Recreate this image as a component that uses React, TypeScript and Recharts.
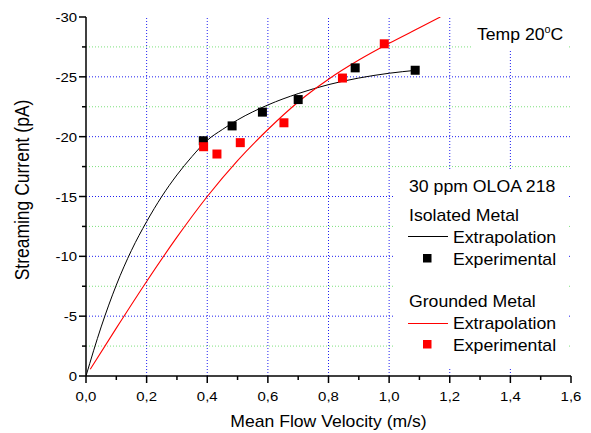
import React from 'react';
import { ComposedChart, Line, Scatter, XAxis, YAxis, ReferenceLine } from 'recharts';

// Extrapolation curves (velocity in m/s, current in pA)
const isolatedCurveV = [0, 0.05, 0.1, 0.15, 0.2, 0.25, 0.3, 0.35, 0.4, 0.45, 0.5, 0.6, 0.7, 0.8, 0.9, 1.0, 1.09];
const isolatedCurveI = [0, -4.1, -7.6, -10.5, -12.9, -15.0, -16.8, -18.35, -19.7, -20.6, -21.4, -22.65, -23.6, -24.35, -24.9, -25.3, -25.55];

const groundedCurveV = [0.014, 0.1, 0.2, 0.3, 0.4, 0.5, 0.6, 0.7, 0.8, 0.9, 1.0, 1.1, 1.169];
const groundedCurveI = [-0.56, -4.0, -7.9, -11.6, -15.0, -18.0, -20.6, -22.9, -24.8, -26.4, -27.8, -29.1, -30];

// Experimental points
const isolatedExpV = [0.387, 0.482, 0.582, 0.7, 0.888, 1.086];
const isolatedExpI = [-19.66, -20.9, -22.05, -23.1, -25.75, -25.55];

const groundedExpV = [0.388, 0.432, 0.509, 0.653, 0.846, 0.984];
const groundedExpI = [-19.16, -18.55, -19.5, -21.16, -24.9, -27.76];

// Ticks and grid
const xTicks = [0, 0.1, 0.2, 0.3, 0.4, 0.5, 0.6, 0.7, 0.8, 0.9, 1.0, 1.1, 1.2, 1.3, 1.4, 1.5, 1.6];
const yTicks = [0, -2.5, -5, -7.5, -10, -12.5, -15, -17.5, -20, -22.5, -25, -27.5, -30];
const gridX = [0.2, 0.4, 0.6, 0.8, 1.0, 1.2, 1.4];
const gridYMajor = [-5, -10, -15, -20, -25];
const gridYMinor = [-2.5, -7.5, -12.5, -17.5, -22.5, -27.5];

const zip = (v: number[], i: number[]) => v.map((x, k) => ({ v: x, i: i[k] }));

const isolatedCurve = zip(isolatedCurveV, isolatedCurveI);
const groundedCurve = zip(groundedCurveV, groundedCurveI);
const isolatedExp = zip(isolatedExpV, isolatedExpI);
const groundedExp = zip(groundedExpV, groundedExpI);

const FONT = '"Liberation Sans", Arial, Helvetica, sans-serif';

// text slightly stretched horizontally, like the original image
const T = ({ x, y, size, sx = 1.1, anchor = 'start', children }: any) => (
  <text
    transform={`translate(${x},${y}) scale(${sx},1)`}
    textAnchor={anchor}
    fontSize={size}
    fontFamily={FONT}
    fill="#000"
  >
    {children}
  </text>
);

const XTick = ({ x, y, payload }: any) => {
  const v = payload.value;
  const major = Math.round(v * 10) % 2 === 0;
  return (
    <g>
      <line x1={x} x2={x} y1={y} y2={y + (major ? 7 : 4)} stroke="#000" strokeWidth={1.5} />
      {major && (
        <T x={x} y={y + 25} size={13} sx={1.15} anchor="middle">
          {v.toFixed(1).replace('.', ',')}
        </T>
      )}
    </g>
  );
};

const YTick = ({ x, y, payload }: any) => {
  const v = payload.value;
  const major = v % 5 === 0;
  return (
    <g>
      <line x1={x} x2={x - (major ? 7 : 4)} y1={y} y2={y} stroke="#000" strokeWidth={1.5} />
      {major && (
        <T x={x - 9} y={y + 5} size={13} sx={1.15} anchor="end">
          {String(v)}
        </T>
      )}
    </g>
  );
};

const square = (color: string) => (props: any) => (
  <rect x={props.cx - 4.5} y={props.cy - 4.5} width={9} height={9} fill={color} />
);

export default function App() {
  return (
    <div style={{ position: 'absolute', left: 0, top: 0, width: 591, height: 433, background: '#fff', fontFamily: FONT }}>
      <ComposedChart width={591} height={433} margin={{ top: 17, right: 20, bottom: 0, left: 0 }}>
        <XAxis
          type="number"
          dataKey="v"
          domain={[0, 1.6]}
          ticks={xTicks}
          interval={0}
          allowDataOverflow
          height={57}
          tickSize={0}
          tickMargin={0}
          tickLine={false}
          tick={<XTick />}
          axisLine={{ stroke: '#000', strokeWidth: 1.5 }}
        />
        <YAxis
          type="number"
          dataKey="i"
          domain={[-30, 0]}
          reversed
          ticks={yTicks}
          interval={0}
          allowDataOverflow
          width={86}
          tickSize={0}
          tickMargin={0}
          tickLine={false}
          tick={<YTick />}
          axisLine={{ stroke: '#000', strokeWidth: 1.5 }}
        />

        {gridYMinor.map((y) => (
          <ReferenceLine key={`gm${y}`} y={y} stroke="#7ee07e" strokeDasharray="1 2" />
        ))}
        {gridYMajor.map((y) => (
          <ReferenceLine key={`gy${y}`} y={y} stroke="#2020f0" strokeDasharray="1 2" />
        ))}
        {gridX.map((x) => (
          <ReferenceLine key={`gx${x}`} x={x} stroke="#2020f0" strokeDasharray="1 2" />
        ))}

        <Line
          data={isolatedCurve}
          dataKey="i"
          type="monotone"
          stroke="#000"
          strokeWidth={1}
          dot={false}
          activeDot={false}
          isAnimationActive={false}
        />
        <Line
          data={groundedCurve}
          dataKey="i"
          type="monotone"
          stroke="#ff0000"
          strokeWidth={1.1}
          dot={false}
          activeDot={false}
          isAnimationActive={false}
        />
        <Scatter data={isolatedExp} dataKey="i" shape={square('#000')} isAnimationActive={false} />
        <Scatter data={groundedExp} dataKey="i" shape={square('#ff0000')} isAnimationActive={false} />
      </ComposedChart>

      {/* titles, annotation and legend drawn on top (white boxes hide the grid) */}
      <svg
        width={591}
        height={433}
        style={{ position: 'absolute', left: 0, top: 0, pointerEvents: 'none' }}
      >
        <T x={328.5} y={427} size={16} anchor="middle">Mean Flow Velocity (m/s)</T>
        <text
          transform="translate(29,190) rotate(-90) scale(1,1.12)"
          textAnchor="middle"
          fontSize={17.5}
          fontFamily={FONT}
          fill="#000"
        >
          Streaming Current (pA)
        </text>

        <rect x={472} y={18} width={97} height={31} fill="#fff" />
        <text transform="translate(477,40) scale(1.08,1)" fontSize={16.3} fontFamily={FONT} fill="#000">
          Temp 20
          <tspan fontSize={10} dy={-7}>o</tspan>
          <tspan dy={7}>C</tspan>
        </text>

        <rect x={395} y={170} width={174} height={198} fill="#fff" />
        <T x={409} y={192} size={17} sx={1.04}>30 ppm OLOA 218</T>
        <T x={409} y={220.5} size={17} sx={1.04}>Isolated Metal</T>
        <line x1={408} x2={448} y1={236.5} y2={236.5} stroke="#000" strokeWidth={1} />
        <T x={453} y={242.5} size={17} sx={1.04}>Extrapolation</T>
        <rect x={423} y={254} width={8.5} height={8.5} fill="#000" />
        <T x={453} y={264.5} size={17} sx={1.04}>Experimental</T>
        <T x={409} y={306.5} size={17} sx={1.04}>Grounded Metal</T>
        <line x1={408} x2={448} y1={323.5} y2={323.5} stroke="#ff0000" strokeWidth={1} />
        <T x={453} y={329} size={17} sx={1.04}>Extrapolation</T>
        <rect x={423} y={340} width={8.5} height={8.5} fill="#ff0000" />
        <T x={453} y={350.5} size={17} sx={1.04}>Experimental</T>
      </svg>
    </div>
  );
}
